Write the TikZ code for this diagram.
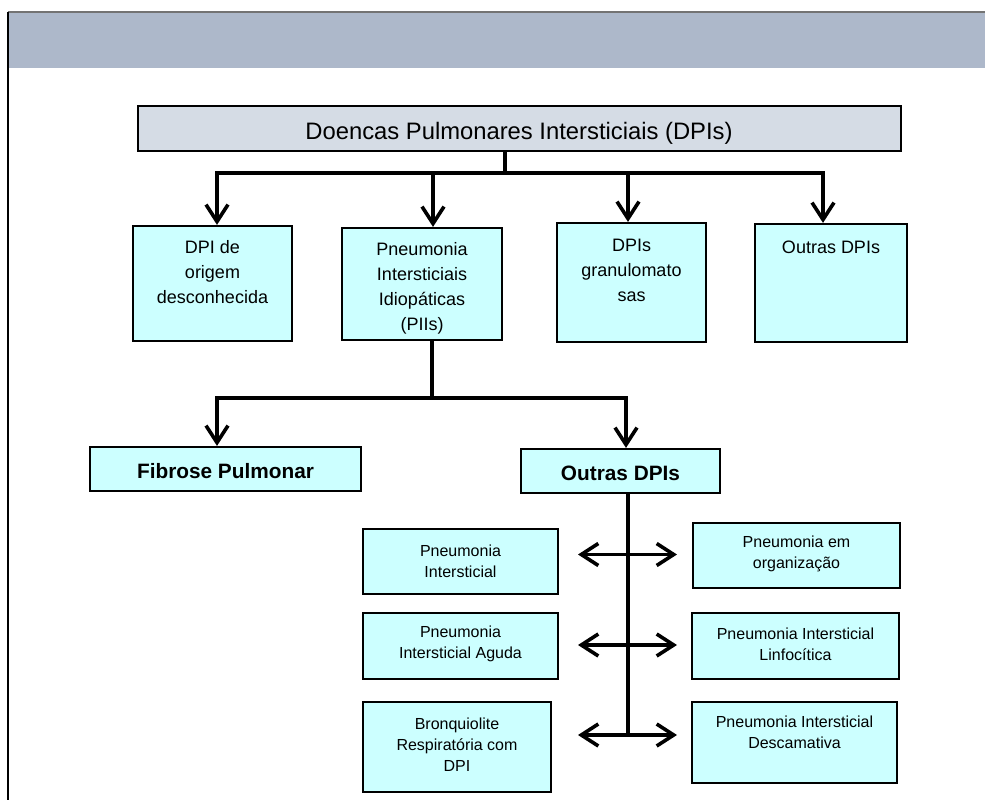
\documentclass[tikz,border=0pt]{standalone}
\usepackage{fontspec}
\setmainfont{Liberation Sans}
\usetikzlibrary{arrows.meta}
\definecolor{bandcol}{RGB}{173,184,202}
\definecolor{topfill}{RGB}{213,220,229}
\definecolor{cyanfill}{RGB}{204,255,255}
\tikzset{
  box/.style={draw=black, line width=2.2pt, fill=cyanfill, inner sep=0pt},
  topbox/.style={draw=black, line width=2.8pt, fill=topfill, inner sep=0pt},
  conn/.style={line width=3.6pt},
  arr/.style={conn, -{Straight Barb[length=17pt,width=22pt]}},
  darr/.style={conn, {Straight Barb[length=17pt,width=22pt]}-{Straight Barb[length=17pt,width=22pt]}},
  tA/.style={font=\fontsize{23.8}{28}\selectfont, align=center, inner sep=0pt},
  tB/.style={font=\fontsize{18}{25}\selectfont, align=center, inner sep=0pt},
  tC/.style={font=\fontsize{16}{21}\selectfont, align=center, inner sep=0pt},
  tD/.style={font=\fontsize{20.8}{24}\selectfont\bfseries, align=center, inner sep=0pt},
}
\begin{document}
\begin{tikzpicture}[x=1pt,y=-1pt]
\useasboundingbox (0,0) rectangle (985,800);
% frame
\fill[bandcol] (8,12) rectangle (985,68);
\draw[line width=1.2pt, black!55] (8,12) -- (985,12);
\draw[line width=2pt] (8,12) -- (8,800);

% top box
\node[topbox, minimum width=763pt, minimum height=45pt] (top) at (519.5,128.5) {};
\node[tA] (toptxt) at (519,133) {Doencas Pulmonares Intersticiais (DPIs)};

% level 2 boxes
\node[box, minimum width=159pt, minimum height=115pt] (b1) at (212.5,283.5) {};
\node[tB] (b1t) at (212.5,272) {DPI de\\origem\\desconhecida};
\node[box, minimum width=160pt, minimum height=112pt] (b2) at (422,284) {};
\node[tB] (b2t) at (422,288.5) {Pneumonia\\Intersticiais\\Idiopáticas\\(PIIs)};
\node[box, minimum width=149pt, minimum height=119pt] (b3) at (631.5,282.5) {};
\node[tB] (b3t) at (631.5,270) {DPIs\\granulomato\\sas};
\node[box, minimum width=152pt, minimum height=118pt] (b4) at (831,283) {};
\node[tB] (b4t) at (831,247) {Outras DPIs};

% level 3 boxes
\node[box, minimum width=271pt, minimum height=44pt] (fib) at (225.5,469) {};
\node[tD] (fibt) at (225.5,471) {Fibrose Pulmonar};
\node[box, minimum width=199pt, minimum height=44pt] (out) at (620.5,471) {};
\node[tD] (outt) at (620.5,473) {Outras DPIs};

% level 4 boxes
\node[box, minimum width=195pt, minimum height=65pt] (l1) at (460.5,561.5) {};
\node[tC] (l1t) at (460.5,561) {Pneumonia\\Intersticial};
\node[box, minimum width=195pt, minimum height=66pt] (l2) at (460.5,646) {};
\node[tC] (l2t) at (460.5,644) {Pneumonia\\Intersticial Aguda};
\node[box, minimum width=188pt, minimum height=90pt] (l3) at (457,747) {};
\node[tC] (l3t) at (457,744.5) {Bronquiolite\\Respiratória com\\DPI};
\node[box, minimum width=207pt, minimum height=65pt] (r1) at (796.5,555.5) {};
\node[tC] (r1t) at (796.5,553.5) {Pneumonia em\\organização};
\node[box, minimum width=207pt, minimum height=66pt] (r2) at (795.5,646) {};
\node[tC] (r2t) at (795.5,644) {Pneumonia Intersticial\\Linfocítica};
\node[box, minimum width=205pt, minimum height=81pt] (r3) at (794.5,742.5) {};
\node[tC] (r3t) at (794.5,732.5) {Pneumonia Intersticial\\Descamativa};

% connectors level 1
\coordinate (h0) at (505,173);
\coordinate (h1) at (217,173);
\coordinate (h2) at (433,173);
\coordinate (h3) at (628,173);
\coordinate (h4) at (823,173);
\draw[conn] (top.south -| h0) -- (h0);
\draw[arr] (h0) -- (h1) -- (h1 |- b1.north);
\draw[arr] (h2) -- (h2 |- b2.north);
\draw[arr] (h3) -- (h3 |- b3.north);
\draw[arr] (h0) -- (h4) -- (h4 |- b4.north);

% connectors level 2
\coordinate (k0) at (432,398);
\coordinate (kl) at (217,398);
\coordinate (kr) at (626,398);
\draw[conn] (b2.south -| k0) -- (k0);
\draw[arr] (k0) -- (kl) -- (kl |- fib.north);
\draw[arr] (k0) -- (kr) -- (kr |- out.north);

% stem and double arrows
\coordinate (s0) at (628,735);
\draw[conn] (out.south -| s0) -- (s0);
\coordinate (a1l) at (578,554.5);
\coordinate (a1r) at (677,554.5);
\coordinate (a2l) at (578,645);
\coordinate (a2r) at (677,645);
\coordinate (a3l) at (578,735);
\coordinate (a3r) at (677,735);
\draw[darr] (a1l) -- (a1r);
\draw[darr] (a2l) -- (a2r);
\draw[darr] (a3l) -- (a3r);
\end{tikzpicture}
\end{document}
